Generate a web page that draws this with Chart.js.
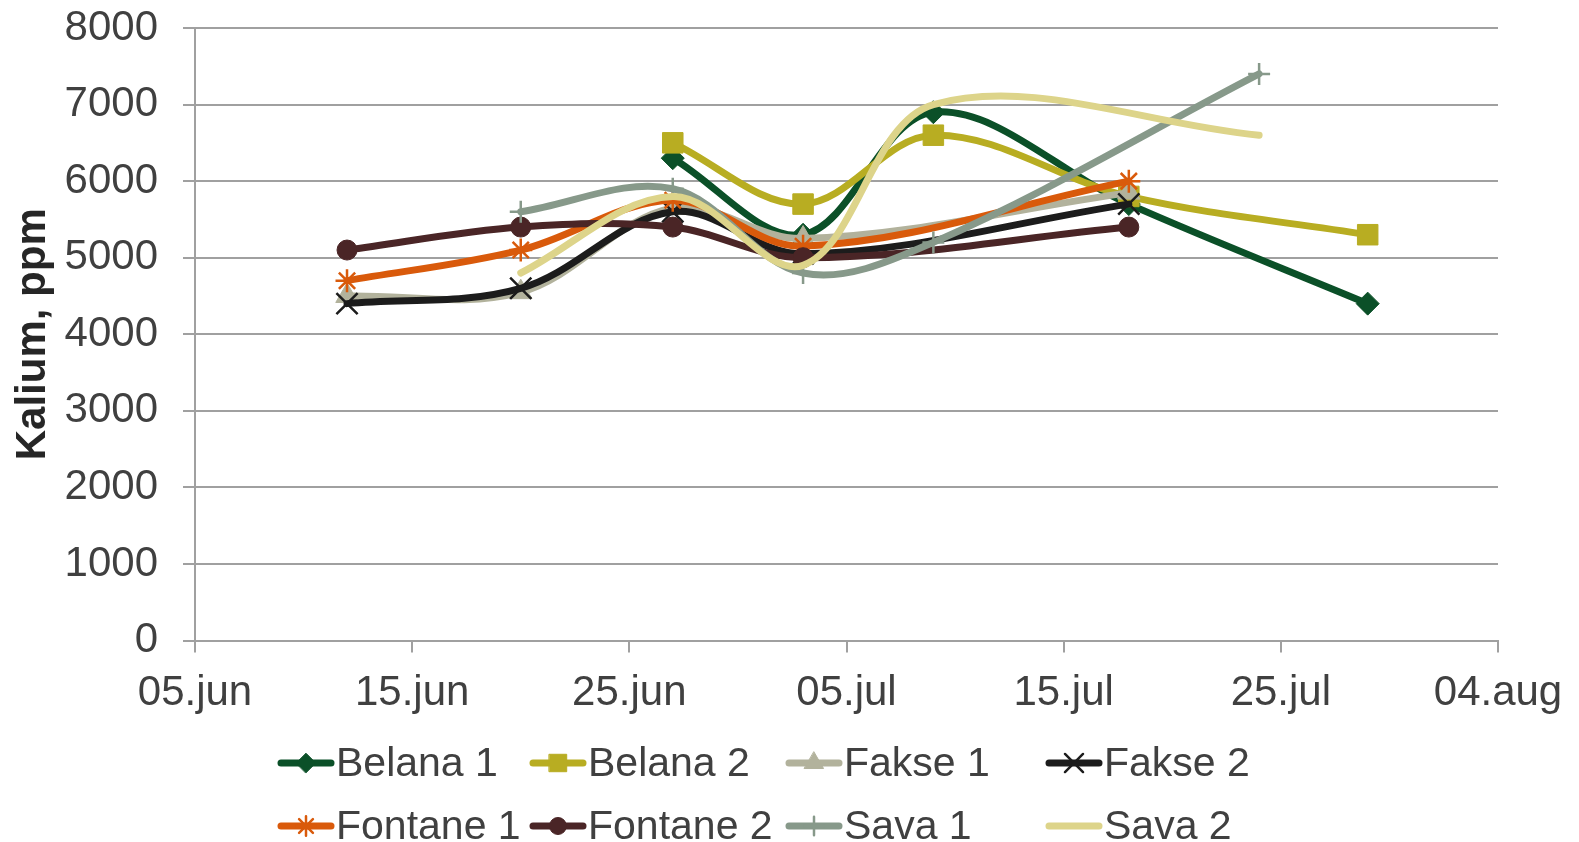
<!DOCTYPE html>
<html>
<head>
<meta charset="utf-8">
<script src="https://cdn.jsdelivr.net/npm/chart.js@4.4.0/dist/chart.umd.min.js"></script>
<style>
  html,body{margin:0;padding:0;background:#fff;overflow:hidden}
  #wrap{width:1579px;height:842px}
</style>
</head>
<body>
<div id="wrap"><canvas id="chart" width="1579" height="842"></canvas></div>
<script>
// sampling dates (x) and potassium values per series (null = not sampled)
const dates    = ['12.jun','20.jun','27.jun','03.jul','09.jul','18.jul','24.jul','29.jul'];
const belana1  = [null, null, 6300, 5300, 6900, 5700, null, 4400];
const belana2  = [null, null, 6500, 5700, 6600, 5800, null, 5300];
const fakse1   = [4500, 4550, 5650, 5250, null, 5850, null, null];
const fakse2   = [4400, 4600, 5600, 5050, null, 5700, null, null];
const fontane1 = [4700, 5100, 5750, 5150, null, 6000, null, null];
const fontane2 = [5100, 5400, 5400, 5000, null, 5400, null, null];
const sava1    = [null, 5600, 5900, 4800, 5200, null, 7400, null];
const sava2    = [null, 4800, 5800, 4900, 7000, null, 6600, null];

const xTickLabels = ['05.jun','15.jun','25.jun','05.jul','15.jul','25.jul','04.aug'];
const yTitle = 'Kalium, ppm';

// days counted from 05.jun
const monthStart = {jun:0, jul:30, aug:61};
function dayNum(s){ const [d,m] = s.split('.'); return monthStart[m] + Number(d) - 5; }

const series = [
  {name:'Belana 1',  values:belana1,  color:'#0b5028', style:'rectRot',  radius:11.5, border:1},
  {name:'Belana 2',  values:belana2,  color:'#b8ad22', style:'rect',     radius:14.5, border:1},
  {name:'Fakse 1',   values:fakse1,   color:'#b2b29c', style:'triangle', radius:13,   border:1},
  {name:'Fakse 2',   values:fakse2,   color:'#1c1c1c', style:'crossRot', radius:15,   border:2.5},
  {name:'Fontane 1', values:fontane1, color:'#d95a0b', style:'star',     radius:11.5, border:2.5},
  {name:'Fontane 2', values:fontane2, color:'#4a2526', style:'circle',   radius:10,   border:1},
  {name:'Sava 1',    values:sava1,    color:'#87998a', style:'cross',    radius:11,   border:2.5},
  {name:'Sava 2',    values:sava2,    color:'#ddd48a', style:false,      radius:0,    border:0}
];

const datasets = series.map((s,i)=>({
  label: s.name,
  data: dates.map((d,j)=>({x:dayNum(d), y:s.values[j]})).filter(p=>p.y!==null),
  borderColor: s.color,
  backgroundColor: s.color,
  borderWidth: 7,
  borderCapStyle: 'round',
  borderJoinStyle: 'round',
  tension: 0.35,
  pointStyle: s.style || 'circle',
  pointRadius: s.radius,
  pointHoverRadius: s.radius,
  pointBackgroundColor: s.color,
  pointBorderColor: s.color,
  pointBorderWidth: s.border,
  order: series.length - i
}));

const FONT = '"Liberation Sans", Arial, sans-serif';

const rowLegend = {
  id:'rowLegend',
  afterDraw(chart){
    const ctx = chart.ctx;
    const colX = [279, 531, 787, 1047];
    const rowY = [763, 826];
    series.forEach((s,i)=>{
      const x = colX[i%4], y = rowY[Math.floor(i/4)];
      ctx.save();
      ctx.strokeStyle = s.color; ctx.fillStyle = s.color;
      ctx.lineWidth = 7; ctx.lineCap = 'round';
      ctx.beginPath(); ctx.moveTo(x+2,y); ctx.lineTo(x+52,y); ctx.stroke();
      if(s.style){
        ctx.lineWidth = s.border;
        Chart.helpers.drawPoint(ctx, {pointStyle:s.style, radius:s.radius*0.85, borderWidth:s.border, rotation:0}, x+27, y);
      }
      ctx.fillStyle = '#404040';
      ctx.font = '41px ' + FONT;
      ctx.textBaseline = 'middle';
      ctx.fillText(s.name, x+57, y+2);
      ctx.restore();
    });
  }
};

new Chart(document.getElementById('chart'), {
  type:'line',
  data:{datasets},
  options:{
    responsive:false,
    animation:false,
    spanGaps:true,
    layout:{padding:{left:0, top:28, right:81, bottom:111.5}},
    plugins:{legend:{display:false}, tooltip:{enabled:false}},
    scales:{
      x:{
        type:'linear', min:0, max:60,
        afterFit(s){ s.height = 90; s.paddingLeft = 0; s.paddingRight = 0; },
        ticks:{stepSize:10, autoSkip:false, maxRotation:0, padding:16, color:'#404040',
               font:{family:FONT, size:42},
               callback:v=>xTickLabels[v/10]},
        grid:{drawOnChartArea:false, drawTicks:true, tickLength:12, color:'#a0a0a0', lineWidth:2},
        border:{color:'#a0a0a0', width:2}
      },
      y:{
        min:0, max:8000,
        afterFit(s){ s.width = 195; s.paddingTop = 0; s.paddingBottom = 0; },
        ticks:{stepSize:1000, padding:25, color:'#404040', font:{family:FONT, size:42},
               callback:v=>String(v)},
        grid:{color:'#a0a0a0', lineWidth:2, tickLength:12},
        border:{color:'#a0a0a0', width:2},
        title:{display:true, text:yTitle, color:'#262626', padding:{top:8, bottom:0},
               font:{family:FONT, size:42, weight:'bold'}}
      }
    }
  },
  plugins:[rowLegend]
});
</script>
</body>
</html>
